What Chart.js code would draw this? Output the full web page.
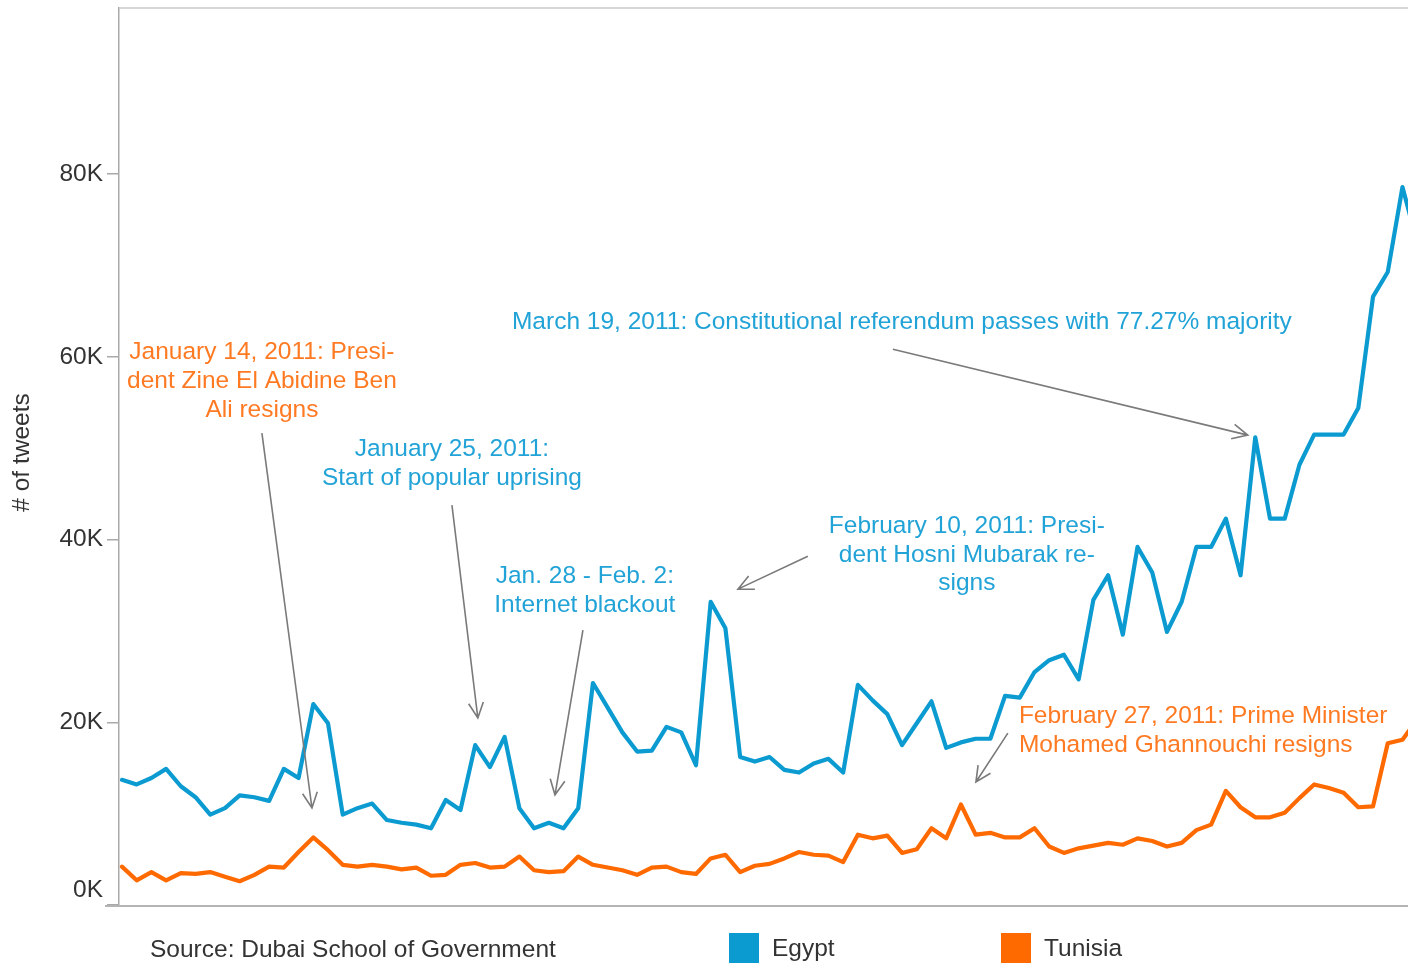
<!DOCTYPE html>
<html>
<head>
<meta charset="utf-8">
<title># of tweets - Egypt and Tunisia</title>
<script src="https://cdn.jsdelivr.net/npm/chart.js@4.4.1/dist/chart.umd.min.js"></script>
<style>
  html, body { margin: 0; padding: 0; background: #ffffff; overflow: hidden; }
  #wrap { width: 1408px; height: 963px; overflow: hidden; position: relative; }
  canvas { display: block; }
</style>
</head>
<body>
<div id="wrap"><canvas id="tweetChart" width="1440" height="963"></canvas></div>
<script>
// ---------------------------------------------------------------
// data (one value per day)
// ---------------------------------------------------------------
var egypt = [
  13700, 13200, 13900, 14900, 13000, 11800, 9900, 10600, 12000, 11800,
  11400, 14900, 13900, 22000, 19900, 9900, 10600, 11100, 9300, 9000,
  8800, 8400, 11500, 10400, 17500, 15100, 18400, 10600, 8400, 9000,
  8400, 10600, 24300, 21600, 18900, 16800, 16900, 19500, 18900, 15300,
  33200, 30300, 16200, 15700, 16200, 14800, 14500, 15500, 16000, 14500,
  24100, 22400, 20900, 17500, 19900, 22300, 17200, 17800, 18200, 18200,
  22900, 22700, 25500, 26800, 27400, 24700, 33400, 36100, 29600, 39200,
  36400, 29900, 33200, 39200, 39200, 42300, 36100, 51200, 42300, 42300,
  48200, 51500, 51500, 51500, 54400, 66600, 69300, 78600, 72500
];
var tunisia = [
  4200, 2700, 3600, 2700, 3500, 3400, 3600, 3100, 2600, 3300,
  4200, 4100, 5800, 7400, 6000, 4400, 4200, 4400, 4200, 3900,
  4100, 3200, 3300, 4400, 4600, 4100, 4200, 5300, 3800, 3600,
  3700, 5300, 4400, 4100, 3800, 3300, 4100, 4200, 3600, 3400,
  5100, 5500, 3600, 4300, 4500, 5100, 5800, 5500, 5400, 4700,
  7700, 7300, 7600, 5700, 6100, 8400, 7300, 11000, 7700, 7900,
  7400, 7400, 8400, 6400, 5700, 6200, 6500, 6800, 6600, 7300,
  7000, 6400, 6800, 8200, 8800, 12500, 10700, 9600, 9600, 10100,
  11700, 13200, 12800, 12300, 10700, 10800, 17700, 18100, 20300
];
var seriesNames = ['Egypt', 'Tunisia'];
var tickValues = [0, 20000, 40000, 60000, 80000];
var tickLabels = ['0K', '20K', '40K', '60K', '80K'];
var axisTitle = '# of tweets';
var sourceText = 'Source: Dubai School of Government';

// notes: text anchor and arrow ends are given in data units (day index, tweets)
var notes = [
  { lines: ['January 14, 2011: Presi-', 'dent Zine El Abidine Ben', 'Ali resigns'], series: 1, align: 'center',
    at: [9.51, 60500], from: [9.51, 51660], to: [12.91, 10620] },
  { lines: ['January 25, 2011:', 'Start of popular uprising'], series: 0, align: 'center',
    at: [22.42, 49900], from: [22.42, 43780], to: [24.18, 20470] },
  { lines: ['Jan. 28 - Feb. 2:', 'Internet blackout'], series: 0, align: 'center',
    at: [31.45, 36000], from: [31.32, 30100], to: [29.42, 12040] },
  { lines: ['February 10, 2011: Presi-', 'dent Hosni Mubarak re-', 'signs'], series: 0, align: 'center',
    at: [57.4, 41480], from: [46.6, 38190], to: [41.85, 34580] },
  { lines: ['March 19, 2011: Constitutional referendum passes with 77.27% majority'], series: 0, align: 'center',
    at: [52.99, 63800], from: [52.38, 60850], to: [76.49, 51440] },
  { lines: ['February 27, 2011: Prime Minister', 'Mohamed Ghannouchi resigns'], series: 1, align: 'left',
    at: [60.94, 20680], from: [60.19, 18820], to: [58.02, 13460] }
];

// ---------------------------------------------------------------
// styles
// ---------------------------------------------------------------
var FONT = '"Liberation Sans", Arial, sans-serif';
var FONT_SIZE = 24.5;
var lineColors = ['#0b9bd1', '#ff6a00'];
var noteColors = ['#22a3d7', '#ff7a22'];
var textColor = '#333333';
var axisColor = '#a9a9a9';

Chart.defaults.font.family = FONT;
Chart.defaults.font.size = FONT_SIZE;

function toPoints(arr) {
  return arr.map(function (v, i) { return { x: i, y: v }; });
}

// frame, tick labels, axis title, notes and legend
var decorPlugin = {
  id: 'decor',
  afterDraw: function (chart) {
    var ctx = chart.ctx;
    var area = chart.chartArea;
    var xs = chart.scales.x;
    var ys = chart.scales.y;
    ctx.save();

    // top and bottom frame lines
    ctx.strokeStyle = '#c9c9c9';
    ctx.lineWidth = 1.5;
    ctx.beginPath();
    ctx.moveTo(area.left, area.top);
    ctx.lineTo(chart.width, area.top);
    ctx.stroke();
    ctx.strokeStyle = '#b4b4b4';
    ctx.lineWidth = 2;
    ctx.beginPath();
    ctx.moveTo(area.left - 14, area.bottom + 1);
    ctx.lineTo(chart.width, area.bottom + 1);
    ctx.stroke();

    // tick labels
    ctx.font = FONT_SIZE + 'px ' + FONT;
    ctx.fillStyle = textColor;
    ctx.textAlign = 'right';
    ctx.textBaseline = 'middle';
    tickValues.forEach(function (v, i) {
      var y = Math.min(ys.getPixelForValue(v), area.bottom - 15);
      ctx.fillText(tickLabels[i], area.left - 16, y);
    });

    // axis title
    ctx.save();
    ctx.translate(22, (area.top + area.bottom) / 2 - 4);
    ctx.rotate(-Math.PI / 2);
    ctx.textAlign = 'center';
    ctx.fillText(axisTitle, 0, 0);
    ctx.restore();

    // notes with arrows
    notes.forEach(function (n) {
      var x0 = xs.getPixelForValue(n.from[0]), y0 = ys.getPixelForValue(n.from[1]);
      var x1 = xs.getPixelForValue(n.to[0]), y1 = ys.getPixelForValue(n.to[1]);
      ctx.strokeStyle = '#7a7a7a';
      ctx.lineWidth = 1.6;
      ctx.beginPath();
      ctx.moveTo(x0, y0);
      ctx.lineTo(x1, y1);
      var ang = Math.atan2(y1 - y0, x1 - x0);
      var hl = 17, spread = 0.45;
      ctx.moveTo(x1 - hl * Math.cos(ang - spread), y1 - hl * Math.sin(ang - spread));
      ctx.lineTo(x1, y1);
      ctx.lineTo(x1 - hl * Math.cos(ang + spread), y1 - hl * Math.sin(ang + spread));
      ctx.stroke();

      var tx = xs.getPixelForValue(n.at[0]);
      var ty = ys.getPixelForValue(n.at[1]);
      ctx.fillStyle = noteColors[n.series];
      ctx.textAlign = n.align;
      ctx.textBaseline = 'middle';
      n.lines.forEach(function (line, k) {
        ctx.fillText(line, tx, ty + k * 28.8);
      });
    });

    // source and legend
    ctx.fillStyle = textColor;
    ctx.textAlign = 'left';
    ctx.fillText(sourceText, 150, 950);
    var legendX = [729, 1001];
    chart.data.datasets.forEach(function (ds, i) {
      ctx.fillStyle = ds.borderColor;
      ctx.fillRect(legendX[i], 933, 30, 30);
      ctx.fillStyle = textColor;
      ctx.fillText(ds.label, legendX[i] + 43, 949);
    });

    ctx.restore();
  }
};

var ctx = document.getElementById('tweetChart').getContext('2d');
var tweetChart = new Chart(ctx, {
  type: 'line',
  data: {
    datasets: [
      { label: seriesNames[0], data: toPoints(egypt), borderColor: lineColors[0], backgroundColor: lineColors[0] },
      { label: seriesNames[1], data: toPoints(tunisia), borderColor: lineColors[1], backgroundColor: lineColors[1] }
    ]
  },
  options: {
    responsive: false,
    animation: false,
    devicePixelRatio: 1,
    layout: { padding: { top: 8, bottom: 58, left: 0, right: 0 } },
    elements: {
      line: { borderWidth: 4.2, tension: 0, borderJoinStyle: 'round', borderCapStyle: 'round' },
      point: { radius: 0, hoverRadius: 0 }
    },
    plugins: {
      legend: { display: false },
      tooltip: { enabled: false }
    },
    scales: {
      x: {
        type: 'linear',
        display: false,
        min: -0.2,
        max: 89.55
      },
      y: {
        min: 0,
        max: 98200,
        afterBuildTicks: function (scale) {
          scale.ticks = tickValues.map(function (v) { return { value: v }; });
        },
        afterFit: function (scale) { scale.width = 119; },
        ticks: { display: false },
        grid: { drawOnChartArea: false, drawTicks: true, tickLength: 12, color: axisColor, lineWidth: 1.5 },
        border: { display: true, color: axisColor, width: 1.5 }
      }
    }
  },
  plugins: [decorPlugin]
});
</script>
</body>
</html>
